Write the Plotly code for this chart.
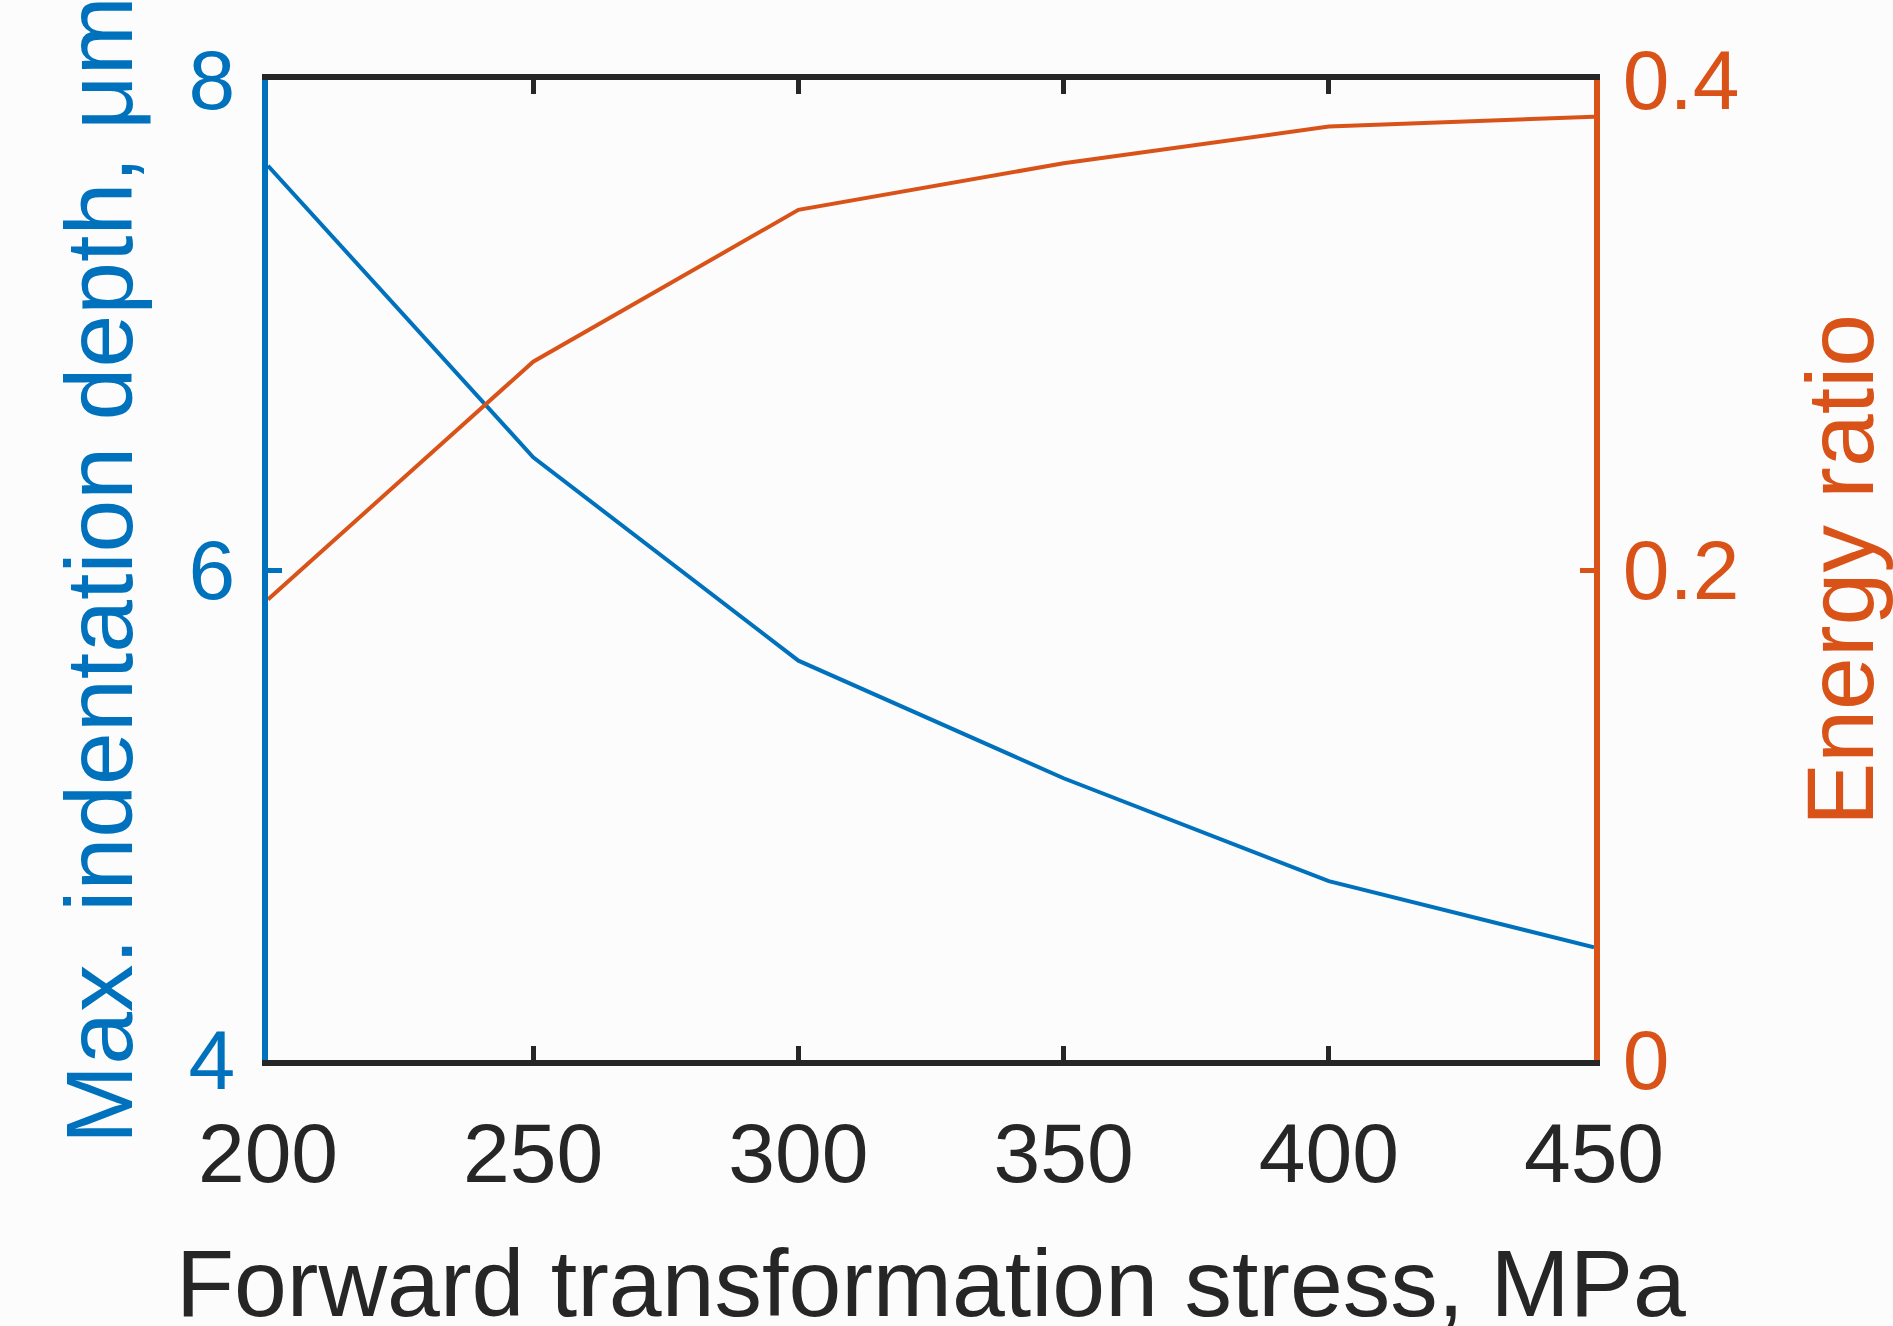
import plotly.graph_objects as go

stress = [200, 250, 300, 350, 400, 450]
depth = [7.65, 6.46, 5.63, 5.15, 4.73, 4.46]
energy_ratio = [0.188, 0.285, 0.347, 0.366, 0.381, 0.385]

x_ticks = [200, 250, 300, 350, 400, 450]
y1_ticks = [4, 6, 8]
y2_ticks = [0, 0.2, 0.4]
y2_ticklabels = ["0", "0.2", "0.4"]

x_title = "Forward transformation stress, MPa"

BLUE = "#0072BD"
ORANGE = "#D95319"
DARK = "#262626"
FONT = "Liberation Sans, Arial, Helvetica, sans-serif"

fig = go.Figure()
fig.add_trace(go.Scatter(x=stress, y=depth, mode="lines",
                         line=dict(color=BLUE, width=4), yaxis="y", showlegend=False))
fig.add_trace(go.Scatter(x=stress, y=energy_ratio, mode="lines",
                         line=dict(color=ORANGE, width=4), yaxis="y2", showlegend=False))

fig.update_layout(
    width=1893, height=1326,
    margin=dict(l=268, r=299, t=80, b=266, autoexpand=False),
    paper_bgcolor="#fcfcfc", plot_bgcolor="#fcfcfc",
    font=dict(family=FONT, color=DARK),
    xaxis=dict(
        range=[200, 450], tickvals=x_ticks, showgrid=False, zeroline=False,
        showline=True, linecolor=DARK, linewidth=6, mirror="ticks",
        ticks="inside", ticklen=14, tickwidth=5, tickcolor=DARK,
        ticklabelstandoff=15,
        tickfont=dict(size=84, color=DARK, family=FONT),
        automargin=False,
    ),
    yaxis=dict(
        range=[4, 8], tickvals=y1_ticks, showgrid=False, zeroline=False,
        showline=True, linecolor=BLUE, linewidth=6,
        ticks="inside", ticklen=14, tickwidth=5, tickcolor=BLUE,
        ticklabelstandoff=10,
        tickfont=dict(size=84, color=BLUE, family=FONT),
        title=dict(text="Max. indentation depth, μm",
                   font=dict(size=95, color=BLUE, family=FONT), standoff=26),
        automargin=False,
    ),
    yaxis2=dict(
        range=[0, 0.4], tickvals=y2_ticks, ticktext=y2_ticklabels,
        overlaying="y", side="right", showgrid=False, zeroline=False,
        showline=True, linecolor=ORANGE, linewidth=6,
        ticks="inside", ticklen=14, tickwidth=5, tickcolor=ORANGE,
        ticklabelstandoff=6,
        tickfont=dict(size=84, color=ORANGE, family=FONT),
        title=dict(text="Energy ratio",
                   font=dict(size=95, color=ORANGE, family=FONT), standoff=72),
        automargin=False,
    ),
    annotations=[dict(
        text=x_title, xref="paper", yref="paper", x=0.5, y=-0.2276,
        xanchor="center", yanchor="middle", showarrow=False,
        font=dict(size=95, color=DARK, family=FONT),
    )],
)

fig.write_html("out.html")
